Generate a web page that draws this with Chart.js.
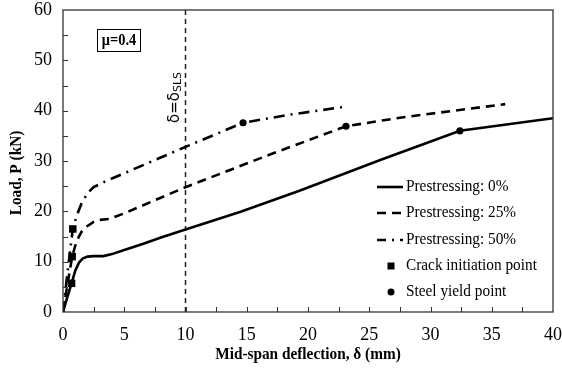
<!DOCTYPE html>
<html>
<head>
<meta charset="utf-8">
<script src="https://cdn.jsdelivr.net/npm/chart.js@4.4.1/dist/chart.umd.min.js"></script>
<style>
html, body { margin: 0; padding: 0; background: #fff; }
#wrap { width: 562px; height: 376px; }
</style>
</head>
<body>
<div id="wrap"><canvas id="loadChart"></canvas></div>
<script>
// load-deflection curves, one pair of arrays per prestressing level
const defl0 = [0, 0.3, 0.7, 1.0, 1.3, 1.6, 2.0, 2.5, 3.3, 4.0, 5.0, 6.5, 8.0, 10, 14.5, 19.3, 25.9, 32.4, 40];
const load0 = [0, 2.5, 5.7, 8.2, 9.8, 10.6, 11.0, 11.1, 11.1, 11.5, 12.3, 13.5, 14.8, 16.4, 19.9, 24.1, 30.2, 36.0, 38.5];
const defl25 = [0, 0.4, 0.75, 1.1, 1.5, 2.0, 2.5, 3.0, 3.8, 5.0, 10, 16.9, 23.1, 27.5, 36.1];
const load25 = [0, 6.0, 11.0, 14.0, 15.9, 17.1, 17.9, 18.3, 18.5, 19.6, 24.8, 31.3, 36.9, 38.6, 41.3];
const defl50 = [0, 0.4, 0.8, 1.1, 1.5, 2.0, 2.5, 3.0, 3.5, 10, 14.7, 18.5, 22.8];
const load50 = [0, 8.5, 16.5, 19.0, 21.5, 23.6, 24.8, 25.4, 26.0, 32.8, 37.6, 39.2, 40.7];

// markers
const crackDefl = [0.7, 0.75, 0.8];
const crackLoad = [5.7, 11.0, 16.5];
const yieldDefl = [32.4, 23.1, 14.7];
const yieldLoad = [36.0, 36.9, 37.6];

// serviceability deflection limit
const slsDefl = 10;

const xTickValues = [0, 5, 10, 15, 20, 25, 30, 35, 40];
const yTickValues = [0, 10, 20, 30, 40, 50, 60];

const legendLabels = [
	"Prestressing: 0%",
	"Prestressing: 25%",
	"Prestressing: 50%",
	"Crack initiation point",
	"Steel yield point",
];

const SERIF = "'Liberation Serif', 'Times New Roman', serif";
const NARROW = 0.9; // horizontal squeeze for the drawn labels
const DASH25 = [9, 6];
const DASH50 = [11, 6, 2, 6];

function pts(xs, ys) {
	return xs.map((x, i) => ({ x: x, y: ys[i] }));
}

function curve(label, xs, ys, dash) {
	return {
		label: label,
		data: pts(xs, ys),
		borderColor: "#000",
		borderWidth: 2.6,
		borderDash: dash,
		pointRadius: 0,
		tension: 0,
		fill: false,
	};
}

function narrowText(ctx, text, x, y) {
	ctx.save();
	ctx.translate(x, y);
	ctx.scale(NARROW, 1);
	ctx.fillText(text, 0, 0);
	ctx.restore();
}

// frame, inward ticks, titles, legend and annotations
const extras = {
	id: "extras",
	afterDatasetsDraw(chart) {
		const ctx = chart.ctx;
		const a = chart.chartArea;
		const xs = chart.scales.x;
		const ys = chart.scales.y;
		ctx.save();

		ctx.strokeStyle = "#333";
		ctx.lineWidth = 1.3;
		ctx.strokeRect(a.left, a.top, a.right - a.left, a.bottom - a.top);

		ctx.beginPath();
		for (let v = 2.5; v < 40; v += 2.5) {
			const px = Math.round(xs.getPixelForValue(v)) + 0.5;
			ctx.moveTo(px, a.bottom);
			ctx.lineTo(px, a.bottom - 5);
		}
		for (let v = 5; v < 60; v += 5) {
			const py = Math.round(ys.getPixelForValue(v)) + 0.5;
			ctx.moveTo(a.left, py);
			ctx.lineTo(a.left + 5, py);
		}
		ctx.lineWidth = 1;
		ctx.stroke();

		ctx.fillStyle = "#000";

		// mu box
		ctx.strokeStyle = "#000";
		ctx.lineWidth = 1;
		ctx.strokeRect(97.5, 29.5, 43, 22);
		ctx.font = "bold 16px " + SERIF;
		ctx.textAlign = "center";
		ctx.textBaseline = "middle";
		narrowText(ctx, "\u03bc=0.4", 119, 41);

		// limit label, rotated
		const lx = xs.getPixelForValue(slsDefl) - 12;
		ctx.save();
		ctx.translate(lx, 123);
		ctx.rotate(-Math.PI / 2);
		ctx.textAlign = "left";
		ctx.textBaseline = "alphabetic";
		ctx.font = "15px 'DejaVu Sans', sans-serif";
		ctx.fillText("\u03b4=\u03b4", 0, 5);
		const w = ctx.measureText("\u03b4=\u03b4").width;
		ctx.font = "11px 'DejaVu Sans', sans-serif";
		ctx.fillText("SLS", w, 7);
		ctx.restore();

		// axis titles
		ctx.font = "bold 17px " + SERIF;
		ctx.textAlign = "center";
		ctx.textBaseline = "middle";
		narrowText(ctx, "Mid-span deflection, \u03b4 (mm)", (a.left + a.right) / 2, 355);
		ctx.save();
		ctx.translate(17, 173);
		ctx.rotate(-Math.PI / 2);
		narrowText(ctx, "Load, P (kN)", 0, 0);
		ctx.restore();

		// legend
		const rowY = [187, 213, 240, 266, 292];
		const x0 = 377, x1 = 403;
		ctx.strokeStyle = "#000";
		ctx.lineWidth = 2.6;
		[[], DASH25, [9, 6, 2, 6]].forEach((d, i) => {
			ctx.setLineDash(d);
			ctx.beginPath();
			ctx.moveTo(x0, rowY[i]);
			ctx.lineTo(x1, rowY[i]);
			ctx.stroke();
		});
		ctx.setLineDash([]);
		ctx.fillRect(391 - 3.5, rowY[3] - 3.5, 7, 7);
		ctx.beginPath();
		ctx.arc(391, rowY[4], 3.5, 0, Math.PI * 2);
		ctx.fill();

		ctx.font = "17px " + SERIF;
		ctx.textAlign = "left";
		ctx.textBaseline = "middle";
		legendLabels.forEach((t, i) => narrowText(ctx, t, 406, rowY[i]));

		ctx.restore();
	},
};

const ctx = document.getElementById("loadChart").getContext("2d");

new Chart(ctx, {
	type: "line",
	data: {
		datasets: [
			curve("Prestressing: 0%", defl0, load0, []),
			curve("Prestressing: 25%", defl25, load25, DASH25),
			curve("Prestressing: 50%", defl50, load50, DASH50),
			{
				label: "SLS",
				data: [{ x: slsDefl, y: 0 }, { x: slsDefl, y: 60 }],
				borderColor: "#222",
				borderWidth: 1.5,
				borderDash: [5, 4],
				pointRadius: 0,
			},
			{
				label: "Crack initiation point",
				data: pts(crackDefl, crackLoad),
				showLine: false,
				pointStyle: "rect",
				pointRadius: 5.3,
				backgroundColor: "#000",
				borderColor: "#000",
				borderWidth: 0,
			},
			{
				label: "Steel yield point",
				data: pts(yieldDefl, yieldLoad),
				showLine: false,
				pointStyle: "circle",
				pointRadius: 3.6,
				backgroundColor: "#000",
				borderColor: "#000",
				borderWidth: 0,
			},
		],
	},
	options: {
		responsive: true,
		maintainAspectRatio: false,
		animation: false,
		layout: { padding: { top: 10, right: 9, left: 0, bottom: 0 } },
		plugins: {
			legend: { display: false },
			tooltip: { enabled: false },
		},
		scales: {
			x: {
				type: "linear",
				min: 0,
				max: 40,
				grid: { display: false, drawTicks: false },
				border: { display: false },
				afterBuildTicks: (s) => { s.ticks = xTickValues.map((v) => ({ value: v })); },
				afterFit: (s) => {
					s.height = 64;
					s.paddingLeft = 0;
					s.paddingRight = 0;
				},
				ticks: {
					padding: 12,
					color: "#000",
					font: { family: SERIF, size: 18 },
				},
			},
			y: {
				type: "linear",
				min: 0,
				max: 60,
				grid: { display: false, drawTicks: false },
				border: { display: false },
				afterBuildTicks: (s) => { s.ticks = yTickValues.map((v) => ({ value: v })); },
				afterFit: (s) => {
					s.width = 63;
					s.paddingTop = 0;
					s.paddingBottom = 0;
				},
				ticks: {
					padding: 11,
					color: "#000",
					font: { family: SERIF, size: 18 },
				},
			},
		},
	},
	plugins: [extras],
});
</script>
</body>
</html>
